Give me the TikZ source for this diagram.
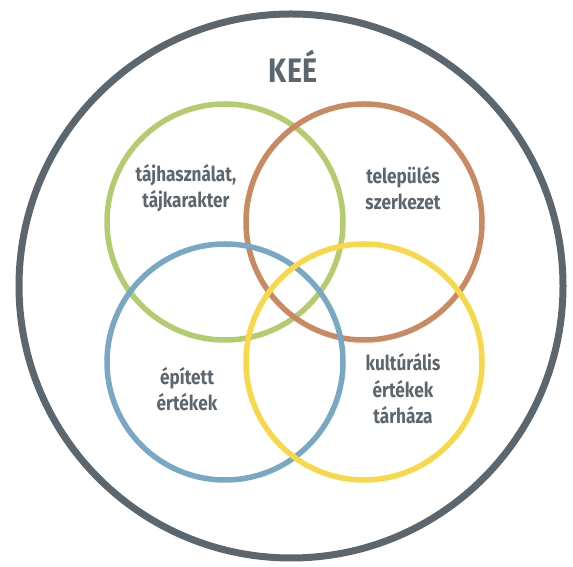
\documentclass[tikz,border=0pt]{standalone}
\usepackage{fontspec}
\setmainfont{Fira Sans}
\definecolor{keegray}{HTML}{5B666F}
\definecolor{keegreen}{HTML}{B4CB6F}
\definecolor{keebrown}{HTML}{C98A63}
\definecolor{keeblue}{HTML}{78A8C4}
\definecolor{keeyellow}{HTML}{F8D84B}
\begin{document}
\begin{tikzpicture}[
x=1pt, y=1pt,
every node/.style={font=\fontsize{20.5}{26.5}\selectfont\bfseries, text=keegray},
outer/.style={draw=keegray, line width=7pt},
ring/.style={line width=5.5pt},
ringtext/.style={align=center, inner sep=0pt, xscale=0.84}
]

% =====================================================
% Frame
% =====================================================
\useasboundingbox (0,0) rectangle (573,567);

% Outer circle
\draw[outer] (291,281) circle[radius=272];

\node[font=\fontsize{34}{34}\selectfont\bfseries, xscale=0.84] (title) at (293,501) {KEÉ};

% =====================================================
% Four rings
% =====================================================
\foreach \cx/\cy/\col in {225/345/keegreen, 364/345/keebrown, 225/205/keeblue, 364/205/keeyellow}{
\draw[ring, draw=\col] (\cx,\cy) circle[radius=118];
}

% Labels
\node[ringtext] (landuse) at (186,379) {tájhasználat,\\tájkarakter};
\node[ringtext] (settle) at (403,379) {település\\szerkezet};
\node[ringtext] (built) at (187,178) {épített\\értékek};
\node[ringtext] (culture) at (403,178) {kultúrális\\értékek\\tárháza};

\end{tikzpicture}
\end{document}
